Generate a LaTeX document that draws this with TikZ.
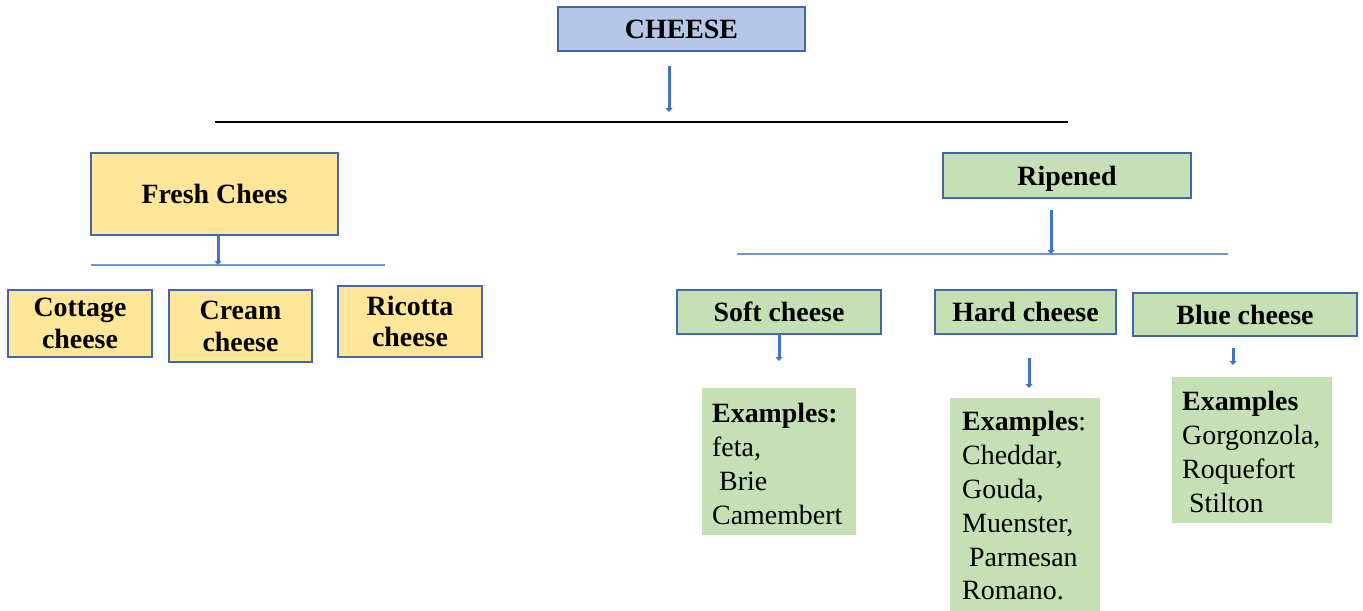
\documentclass[tikz,border=0pt]{standalone}
\usepackage{fontspec}
\setmainfont{Liberation Serif}
\usetikzlibrary{arrows.meta}
\definecolor{bluefill}{HTML}{B4C7E7}
\definecolor{yellowfill}{HTML}{FFE699}
\definecolor{greenfill}{HTML}{C5E0B4}
\definecolor{edgeblue}{HTML}{4066AE}
\definecolor{arrowblue}{HTML}{4472C4}
\definecolor{lineblue}{HTML}{7396D4}
\tikzset{
  box/.style={draw=edgeblue, line width=1.2bp, inner sep=0pt, align=center,
    font=\fontsize{28}{32}\selectfont\bfseries},
  exbox/.style={inner sep=0pt, fill=greenfill},
  extext/.style={inner sep=0pt, anchor=north west, align=left,
    font=\fontsize{28}{34}\selectfont},
  arr/.style={draw=arrowblue, line width=3bp,
    -{Triangle[length=4bp,width=7bp]}},
  bline/.style={draw=lineblue, line width=1.4bp},
}
\begin{document}
\begin{tikzpicture}[x=1bp,y=-1bp]
\useasboundingbox (0,0) rectangle (1363,611);
% top
\node[box, fill=bluefill, minimum width=247bp, minimum height=44bp] (cheese) at (681.5,29) {CHEESE};
\coordinate (a1s) at (669,66);
\coordinate (a1e) at (669,112);
\draw[arr] (a1s) -- (a1e);
\coordinate (tl) at (215,122);
\coordinate (tr) at (1068,122);
\draw[black, line width=1.4bp] (tl) -- (tr);
% fresh
\node[box, fill=yellowfill, minimum width=247bp, minimum height=82bp] (fresh) at (214.5,194) {Fresh Chees};
\coordinate (fl) at (91,265);
\coordinate (fr) at (385,265);
\coordinate (fa) at (218,265);
\coordinate (fs) at (218,235);
\draw[bline] (fl) -- (fr);
\draw[arr] (fs) -- (fa);
\node[box, fill=yellowfill, minimum width=144bp, minimum height=67bp] (cottage) at (80,323.5) {Cottage\\cheese};
\node[box, fill=yellowfill, minimum width=143bp, minimum height=72bp] (cream) at (240.5,326) {Cream\\cheese};
\node[box, fill=yellowfill, minimum width=144bp, minimum height=71bp] (ricotta) at (410,321.5) {Ricotta\\cheese};
% ripened
\node[box, fill=greenfill, minimum width=248bp, minimum height=45bp, text depth=0pt] (ripened) at (1067,175.5) {Ripened};
\coordinate (rs) at (1051,210);
\coordinate (ra) at (1051,254);
\coordinate (rl) at (737,254);
\coordinate (rr) at (1228,254);
\draw[bline] (rl) -- (rr);
\draw[arr] (rs) -- (ra);
\node[box, fill=greenfill, minimum width=204bp, minimum height=44bp] (soft) at (779,312) {Soft cheese};
\node[box, fill=greenfill, minimum width=181bp, minimum height=44bp] (hard) at (1025.5,312) {Hard cheese};
\node[box, fill=greenfill, minimum width=224bp, minimum height=43bp] (blue) at (1245,314.5) {Blue cheese};
% arrows to examples
\coordinate (ss) at (779,334);
\coordinate (se) at (779,361);
\draw[arr] (ss) -- (se);
\coordinate (hs) at (1029,358);
\coordinate (he) at (1029,388);
\draw[arr] (hs) -- (he);
\coordinate (bs) at (1233,348);
\coordinate (be) at (1233,365);
\draw[arr] (bs) -- (be);
% example boxes
\node[exbox, minimum width=154bp, minimum height=147bp] (softex) at (779,461.5) {};
\node[exbox, minimum width=150bp, minimum height=213bp] (hardex) at (1025,504.5) {};
\node[exbox, minimum width=160bp, minimum height=146bp] (blueex) at (1252,450) {};
\node[extext] (softext) at (712,403) {\textbf{Examples:}\\feta,\\~Brie\\Camembert};
\node[extext] (hardext) at (962,411) {\textbf{Examples}:\\Cheddar,\\Gouda,\\Muenster,\\~Parmesan\\Romano.};
\node[extext] (blueext) at (1182,391) {\textbf{Examples}\\Gorgonzola,\\Roquefort\\~Stilton};
\end{tikzpicture}
\end{document}
